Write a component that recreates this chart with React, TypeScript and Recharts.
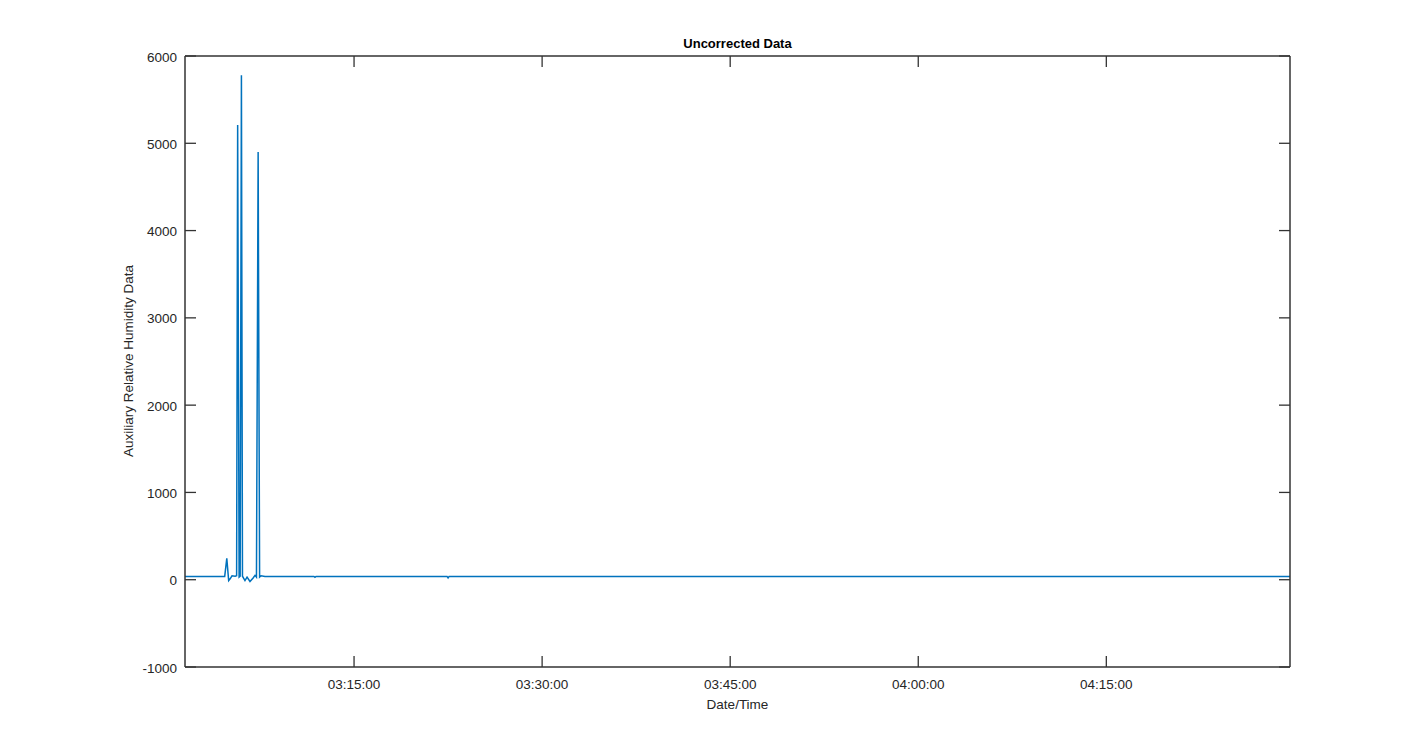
import { Line, LineChart, XAxis, YAxis } from 'recharts'

// sample times (hh:mm:ss) and the auxiliary RH reading at each
const times = [
  '03:01:31', '03:04:41', '03:04:51', '03:05:00', '03:05:07', '03:05:16', '03:05:31', '03:05:38',
  '03:05:43', '03:05:50', '03:05:55', '03:06:01', '03:06:06', '03:06:18', '03:06:28', '03:06:42',
  '03:06:57', '03:07:06', '03:07:13', '03:07:21', '03:07:28', '03:07:35', '03:07:54', '03:11:48',
  '03:11:53', '03:11:58', '03:22:25', '03:22:30', '03:22:35', '03:35:00', '03:50:00', '03:53:00',
  '03:58:00', '04:05:00', '04:15:00', '04:29:39',
]
const values = [
  38, 38, 245, -10, 10, 45, 40, 45,
  5210, 30, 40, 5780, 40, -10, 30, -20,
  20, 50, 30, 4900, 30, 45, 38, 38,
  28, 38, 38, 20, 38, 38, 38, 36,
  36, 37, 38, 38,
]
const xTicks = ['03:15:00', '03:30:00', '03:45:00', '04:00:00', '04:15:00']
const yTicks = [-1000, 0, 1000, 2000, 3000, 4000, 5000, 6000]
const xStart = '03:01:31'
const xEnd = '04:29:39'

const AXIS = '#333333'
const TEXT = '#262626'
const FONT = '"Liberation Sans", Arial, Helvetica, sans-serif'
const TICK_LEN = 11

// plot box edges in px
const LEFT = 185
const RIGHT = 1290
const TOP = 56
const BOTTOM = 667

const toSec = (s: string) => {
  const [h, m, sec] = s.split(':').map(Number)
  return h * 3600 + m * 60 + sec
}
const pad = (n: number) => String(n).padStart(2, '0')
const fmtTime = (v: number) => `${pad(Math.floor(v / 3600))}:${pad(Math.floor((v % 3600) / 60))}:${pad(v % 60)}`

const data = times.map((t, i) => ({ t: toSec(t), v: values[i] }))

function BottomTick({ x, payload }: any) {
  return (
    <g>
      <line x1={x} x2={x} y1={BOTTOM} y2={BOTTOM - TICK_LEN} stroke={AXIS} strokeWidth={1.3} />
      <text x={x} y={BOTTOM + 17} textAnchor="middle" dominantBaseline="central" fill={TEXT} fontSize={13.5} fontFamily={FONT}>
        {fmtTime(payload.value)}
      </text>
    </g>
  )
}

function TopTick({ x }: any) {
  return <line x1={x} x2={x} y1={TOP} y2={TOP + TICK_LEN} stroke={AXIS} strokeWidth={1.3} />
}

function LeftTick({ y, payload }: any) {
  return (
    <g>
      <line x1={LEFT} x2={LEFT + TICK_LEN} y1={y} y2={y} stroke={AXIS} strokeWidth={1.3} />
      <text x={LEFT - 8} y={y + 1} textAnchor="end" dominantBaseline="central" fill={TEXT} fontSize={13.5} fontFamily={FONT}>
        {payload.value}
      </text>
    </g>
  )
}

function RightTick({ y }: any) {
  return <line x1={RIGHT} x2={RIGHT - TICK_LEN} y1={y} y2={y} stroke={AXIS} strokeWidth={1.3} />
}

export default function App() {
  return (
    <div style={{ position: 'absolute', left: 0, top: 0, width: 1425, height: 750, background: '#fff', fontFamily: FONT }}>
      <LineChart width={1425} height={750} data={data} margin={{ top: TOP - 1, right: 1425 - RIGHT - 1, left: LEFT - 60, bottom: 750 - BOTTOM - 30 }}>
        <XAxis
          xAxisId="b"
          dataKey="t"
          type="number"
          domain={[toSec(xStart), toSec(xEnd)]}
          ticks={xTicks.map(toSec)}
          interval={0}
          height={30}
          tickLine={false}
          axisLine={{ stroke: AXIS, strokeWidth: 1.5 }}
          tick={<BottomTick />}
        />
        <XAxis
          xAxisId="t"
          orientation="top"
          dataKey="t"
          type="number"
          domain={[toSec(xStart), toSec(xEnd)]}
          ticks={xTicks.map(toSec)}
          interval={0}
          height={1}
          tickLine={false}
          axisLine={{ stroke: AXIS, strokeWidth: 1.5 }}
          tick={<TopTick />}
        />
        <YAxis
          yAxisId="l"
          type="number"
          domain={[-1000, 6000]}
          ticks={yTicks}
          interval={0}
          width={60}
          tickLine={false}
          axisLine={{ stroke: AXIS, strokeWidth: 1.5 }}
          tick={<LeftTick />}
        />
        <YAxis
          yAxisId="r"
          orientation="right"
          type="number"
          domain={[-1000, 6000]}
          ticks={yTicks}
          interval={0}
          width={1}
          tickLine={false}
          axisLine={{ stroke: AXIS, strokeWidth: 1.5 }}
          tick={<RightTick />}
        />
        <Line
          xAxisId="b"
          yAxisId="l"
          type="linear"
          dataKey="v"
          stroke="#0072BD"
          strokeWidth={1.5}
          dot={false}
          activeDot={false}
          isAnimationActive={false}
        />
        <Line
          xAxisId="t"
          yAxisId="r"
          type="linear"
          dataKey="v"
          stroke="none"
          dot={false}
          activeDot={false}
          legendType="none"
          isAnimationActive={false}
        />
      </LineChart>
      <div style={{ position: 'absolute', left: 0, width: 1475, top: 36, textAlign: 'center', fontSize: 13, fontWeight: 'bold', color: '#000' }}>
        Uncorrected Data
      </div>
      <div style={{ position: 'absolute', left: 0, width: 1475, top: 697, textAlign: 'center', fontSize: 13.5, color: TEXT }}>
        Date/Time
      </div>
      <div
        style={{
          position: 'absolute',
          left: 128,
          top: 361,
          transform: 'translate(-50%, -50%) rotate(-90deg)',
          whiteSpace: 'nowrap',
          fontSize: 13.5,
          color: TEXT,
        }}
      >
        Auxiliary Relative Humidity Data
      </div>
    </div>
  )
}
